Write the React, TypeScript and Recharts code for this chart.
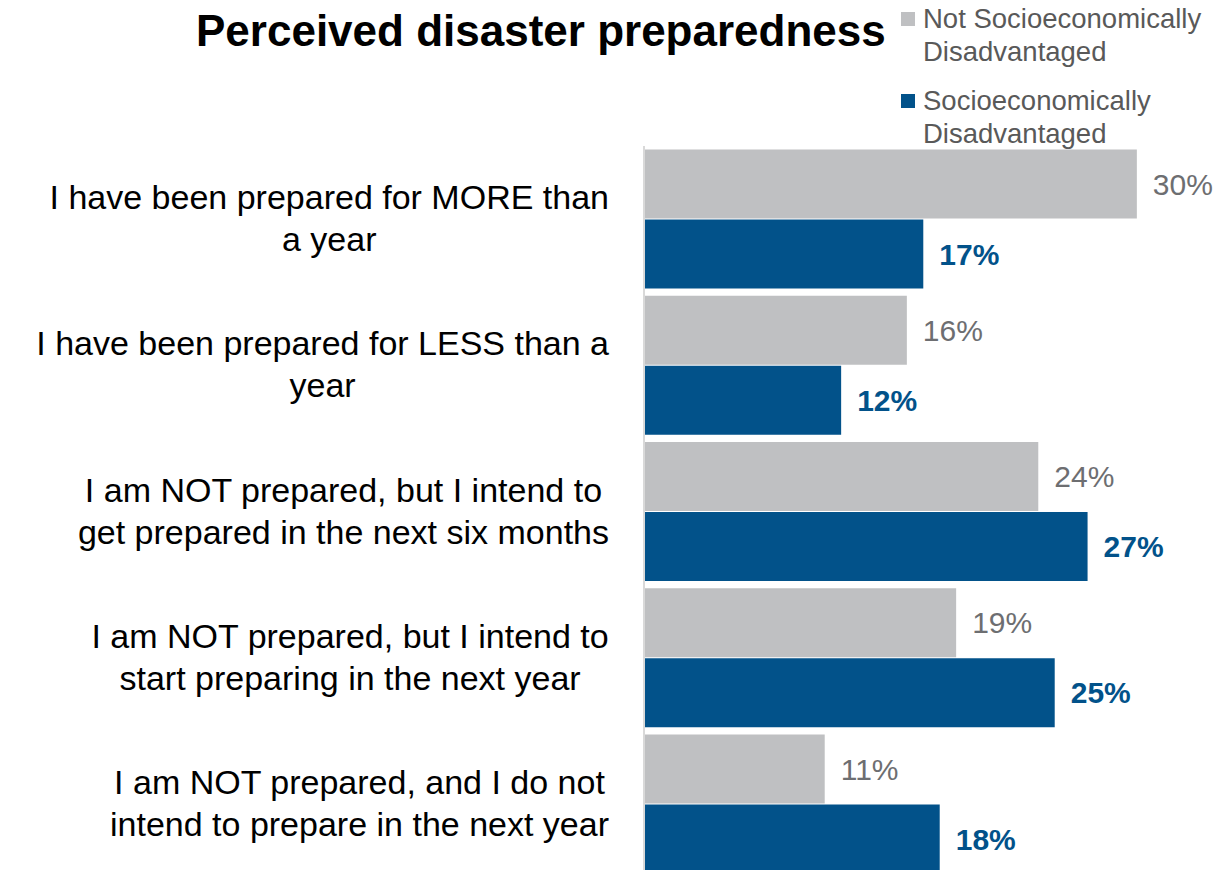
import { BarChart, Bar, XAxis, YAxis, LabelList } from 'recharts';

const categories = [
  'I have been prepared for MORE than\na year',
  'I have been prepared for LESS than a\nyear',
  'I am NOT prepared, but I intend to\nget prepared in the next six months',
  'I am NOT prepared, but I intend to\nstart preparing in the next year',
  'I am NOT prepared, and I do not\nintend to prepare in the next year',
];
const notDisadvantaged = [30, 16, 24, 19, 11];
const disadvantaged = [17, 12, 27, 25, 18];

const GREY = '#bfc0c2';
const BLUE = '#02528a';
const FONT = '"Liberation Sans", Arial, sans-serif';
const TICK_SIZE = 34;

const data = categories.map((name, i) => ({
  name,
  notDis: notDisadvantaged[i],
  dis: disadvantaged[i],
}));

const legendItems = [
  { label: ['Not Socioeconomically', 'Disadvantaged'], color: GREY },
  { label: ['Socioeconomically', 'Disadvantaged'], color: BLUE },
];

let ctx: CanvasRenderingContext2D | null = null;
function measure(s: string) {
  if (!ctx) ctx = document.createElement('canvas').getContext('2d');
  if (!ctx) return s.length * TICK_SIZE * 0.5;
  ctx.font = `${TICK_SIZE}px ${FONT}`;
  return ctx.measureText(s).width;
}

// lines are centred on each other, block is right-aligned against the axis
function CategoryTick({ x, y, payload }: any) {
  const lines = String(payload.value).split('\n');
  const right = x - 27;
  const maxW = Math.max(...lines.map(measure));
  const cx = right - maxW / 2;
  return (
    <text x={cx} y={y} textAnchor="middle" fontFamily={FONT} fontSize={TICK_SIZE} fill="#000">
      {lines.map((l, i) => (
        <tspan key={i} x={cx} dy={i === 0 ? -10 : 42}>
          {l}
        </tspan>
      ))}
    </text>
  );
}

function LegendBox() {
  return (
    <div
      style={{
        position: 'absolute',
        left: 901,
        top: 2,
        fontFamily: FONT,
        fontSize: 27.5,
        color: '#595959',
        lineHeight: '33px',
        whiteSpace: 'nowrap',
      }}
    >
      {legendItems.map((it, i) => (
        <div key={i} style={{ display: 'flex', alignItems: 'flex-start', marginBottom: i === 0 ? 16 : 0 }}>
          <div style={{ width: 14, height: 14, background: it.color, marginTop: 10, marginRight: 8 }} />
          <div>
            {it.label.map((l, j) => (
              <div key={j}>{l}</div>
            ))}
          </div>
        </div>
      ))}
    </div>
  );
}

export default function App() {
  return (
    <div style={{ position: 'absolute', left: 0, top: 0, width: 1224, height: 870, overflow: 'hidden', background: '#fff' }}>
      <div
        style={{
          position: 'absolute',
          left: 196,
          top: 6,
          fontFamily: FONT,
          fontWeight: 'bold',
          fontSize: 44,
          color: '#000',
          whiteSpace: 'nowrap',
        }}
      >
        Perceived disaster preparedness
      </div>
      <LegendBox />
      <BarChart
        width={1224}
        height={880}
        data={data}
        layout="vertical"
        margin={{ top: 146, right: 5, left: 0, bottom: 3 }}
        barCategoryGap={3.6}
        barGap={1}
      >
        <XAxis type="number" domain={[0, 35]} hide />
        <YAxis
          type="category"
          dataKey="name"
          width={644}
          axisLine={{ stroke: '#d9d9d9', strokeWidth: 2 }}
          tickLine={false}
          tick={<CategoryTick />}
          interval={0}
        />
        <Bar dataKey="notDis" fill={GREY} isAnimationActive={false}>
          <LabelList
            dataKey="notDis"
            position="right"
            offset={16}
            formatter={(v: any) => `${v}%`}
            style={{ fontFamily: FONT, fontSize: 30, fill: '#6d6e71' }}
          />
        </Bar>
        <Bar dataKey="dis" fill={BLUE} isAnimationActive={false}>
          <LabelList
            dataKey="dis"
            position="right"
            offset={16}
            formatter={(v: any) => `${v}%`}
            style={{ fontFamily: FONT, fontSize: 30, fill: BLUE, fontWeight: 'bold' }}
          />
        </Bar>
      </BarChart>
    </div>
  );
}
